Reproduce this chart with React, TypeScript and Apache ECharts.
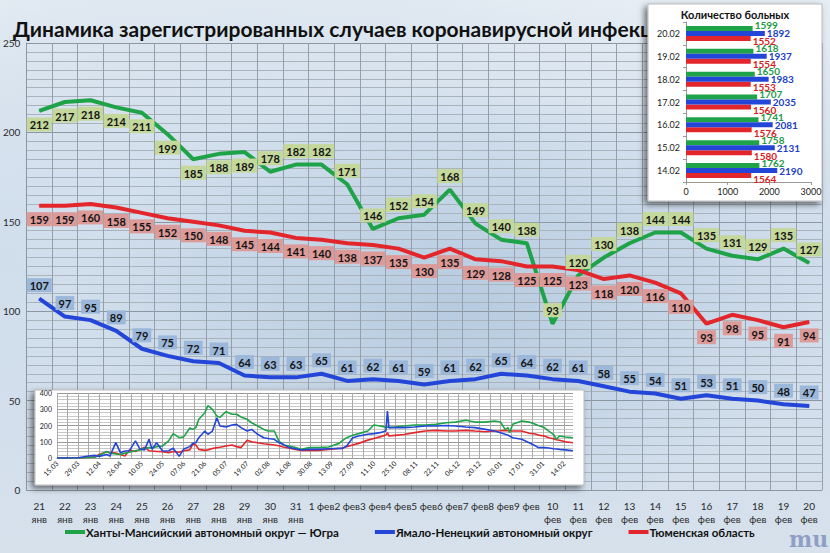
import React, { useEffect, useRef } from "react";
import * as echarts from "echarts";

// main chart: daily registered cases
const days = [
  "21\nянв", "22\nянв", "23\nянв", "24\nянв", "25\nянв", "26\nянв", "27\nянв", "28\nянв",
  "29\nянв", "30\nянв", "31\nянв", "1 фев", "2 фев", "3 фев", "4 фев", "5 фев", "6 фев",
  "7 фев", "8 фев", "9 фев", "10\nфев", "11\nфев", "12\nфев", "13\nфев", "14\nфев",
  "15\nфев", "16\nфев", "17\nфев", "18\nфев", "19\nфев", "20\nфев",
];
const khmao = [212, 217, 218, 214, 211, 199, 185, 188, 189, 178, 182, 182, 171, 146, 152, 154, 168, 149, 140, 138, 93, 120, 130, 138, 144, 144, 135, 131, 129, 135, 127];
const yanao = [107, 97, 95, 89, 79, 75, 72, 71, 64, 63, 63, 65, 61, 62, 61, 59, 61, 62, 65, 64, 62, 61, 58, 55, 54, 51, 53, 51, 50, 48, 47];
const tyumen = [159, 159, 160, 158, 155, 152, 150, 148, 145, 144, 141, 140, 138, 137, 135, 130, 135, 129, 128, 125, 125, 123, 118, 120, 116, 110, 93, 98, 95, 91, 94];

// inset: number of patients
const barDates = ["14.02", "15.02", "16.02", "17.02", "18.02", "19.02", "20.02"];
const barKhmao = [1762, 1758, 1741, 1707, 1650, 1618, 1599];
const barYanao = [2190, 2131, 2081, 2035, 1983, 1937, 1892];
const barTyumen = [1564, 1580, 1576, 1560, 1553, 1554, 1552];

// inset: whole epidemic
const insetDates = [
  "15.03", "22.03", "29.03", "05.04", "09.04", "12.04", "17.04", "19.04", "23.04", "26.04",
  "29.04", "02.05", "06.05", "09.05", "12.05", "15.05", "17.05", "20.05", "24.05", "28.05",
  "31.05", "04.06", "07.06", "11.06", "13.06", "15.06", "17.06", "21.06", "23.06", "26.06",
  "29.06", "01.07", "05.07", "09.07", "12.07", "15.07", "19.07", "22.07", "26.07", "30.07",
  "02.08", "06.08", "09.08", "12.08", "16.08", "20.08", "24.08", "29.08", "04.09", "11.09",
  "18.09", "20.09", "23.09", "27.09", "01.10", "07.10", "11.10", "15.10", "19.10", "20.10",
  "21.10", "25.10", "31.10", "07.11", "14.11", "21.11", "28.11", "04.12", "11.12", "17.12",
  "24.12", "30.12", "03.01", "06.01", "08.01", "09.01", "11.01", "17.01", "22.01", "26.01",
  "28.01", "01.02", "04.02", "07.02", "09.02", "11.02", "15.02", "20.02",
];
const insetKhmao = [
  0, 0, 1, 3, 5, 15, 40, 30, 25, 22,
  30, 35, 45, 50, 60, 64, 62, 70, 74, 105,
  150, 125, 130, 185, 176, 187, 238, 279, 322, 299,
  258, 250, 285, 269, 269, 252, 238, 217, 197, 176,
  166, 166, 105, 80, 74, 64, 53, 64, 64, 68,
  90, 105, 125, 140, 150, 166, 203, 197, 190, 190,
  187, 191, 197, 203, 203, 207, 217, 221, 232, 221,
  221, 228, 221, 176, 187, 156, 207, 228, 221, 207,
  200, 187, 166, 146, 115, 135, 129, 125,
];
const insetYanao = [
  0, 0, 2, 12, 16, 10, 22, 12, 95, 33,
  43, 45, 105, 55, 50, 115, 53, 94, 43, 45,
  60, 10, 55, 70, 90, 94, 125, 166, 146, 166,
  248, 197, 191, 203, 207, 187, 166, 176, 146, 125,
  120, 115, 94, 84, 64, 57, 49, 53, 53, 57,
  60, 59, 74, 125, 135, 146, 150, 156, 166, 289,
  187, 187, 187, 191, 197, 197, 200, 197, 191, 187,
  176, 166, 155, 146, 140, 135, 125, 115, 94, 75,
  64, 64, 62, 57, 55, 53, 50, 45,
];
const insetTyumen = [
  0, 0, 0, 4, 8, 22, 39, 33, 30, 22,
  12, 49, 40, 53, 66, 45, 43, 40, 39, 33,
  40, 35, 45, 50, 85, 80, 53, 47, 50, 58,
  64, 66, 74, 80, 70, 64, 109, 100, 94, 88,
  85, 80, 75, 68, 60, 53, 47, 47, 47, 53,
  58, 59, 70, 80, 90, 110, 120, 130, 141, 156,
  135, 139, 145, 156, 166, 170, 166, 166, 170, 166,
  162, 166, 168, 170, 168, 168, 166, 166, 152, 148,
  141, 135, 125, 118, 112, 109, 100, 94,
];

const GREEN = "#1fa348";
const BLUE = "#2446d8";
const RED = "#e3262b";
const FONT = "Lato";

const insetAxisDates: string[] = [];
{
  const pad = (n: number) => (n < 10 ? "0" + n : "" + n);
  const end = insetDates[insetDates.length - 1];
  for (let i = 0; i < 400; i++) {
    const d = new Date(2020, 2, 15 + i);
    const s = pad(d.getDate()) + "." + pad(d.getMonth() + 1);
    insetAxisDates.push(s);
    if (s === end && i > 300) break;
  }
}

const boxLabel = (bg: string, position: string, distance: number) => ({
  show: true,
  position,
  distance,
  backgroundColor: bg,
  color: "#141414",
  fontFamily: FONT,
  fontWeight: "bold",
  fontSize: 11,
  padding: [2, 3, 1, 3],
});

const barLabel = (color: string, offsetY: number) => ({
  show: true,
  position: "right",
  distance: 2,
  offset: [0, offsetY],
  color,
  fontSize: 10,
  fontWeight: "bold",
  fontFamily: FONT,
});

const App: React.FC = () => {
  const chartRef = useRef<HTMLDivElement>(null);

  useEffect(() => {
    if (!chartRef.current) return;
    const chart = echarts.init(chartRef.current, null, { renderer: "svg" });

    const options = {
      animation: false,
      backgroundColor: "transparent",
      textStyle: { fontFamily: FONT },
      title: {
        text: "Динамика зарегистрированных случаев коронавирусной инфекции",
        left: 8,
        top: 13,
        textStyle: { fontFamily: FONT, fontSize: 21, fontWeight: "bold", color: "#111" },
      },
      legend: {
        left: 60,
        top: 521,
        itemWidth: 20,
        itemHeight: 4,
        itemGap: 36,
        icon: "rect",
        textStyle: { fontFamily: FONT, fontSize: 11.5, fontWeight: "bold", color: "#111", padding: [0, 0, 0, -4] },
        data: [
          "Ханты-Мансийский автономный округ — Югра",
          "Ямало-Ненецкий автономный округ",
          "Тюменская область",
        ],
      },
      graphic: [
        {
          type: "rect",
          z: 10,
          shape: { x: 648, y: 4, width: 174, height: 197 },
          style: { fill: "#fff", stroke: "#bbb", shadowBlur: 6, shadowColor: "rgba(0,0,0,0.55)", shadowOffsetX: -3, shadowOffsetY: 3 },
        },
        {
          type: "text",
          z: 11,
          x: 735,
          y: 9,
          style: { text: "Количество больных", fill: "#111", font: "bold 11px Lato", textAlign: "center" },
        },
        {
          type: "rect",
          z: 10,
          shape: { x: 35, y: 390, width: 549, height: 95 },
          style: { fill: "#fff", stroke: "#bbb", shadowBlur: 6, shadowColor: "rgba(0,0,0,0.55)", shadowOffsetX: -3, shadowOffsetY: 3 },
        },
        {
          type: "text",
          z: 1,
          x: 789,
          y: 528,
          style: { text: "mu", fill: "rgba(110,130,180,0.7)", font: "bold 22px 'DejaVu Serif'" },
        },
      ],
      grid: [
        { left: 26, right: 8, top: 43, bottom: 63 },
        { left: 686, width: 125, top: 22, height: 160, z: 20 },
        { left: 57, width: 516, top: 393, height: 65, z: 20 },
      ],
      xAxis: [
        {
          type: "category",
          data: days,
          gridIndex: 0,
          axisLine: { lineStyle: { color: "#8d97a2" } },
          axisTick: { show: false },
          axisLabel: { interval: 0, fontSize: 10, lineHeight: 13, color: "#2a2a2a", margin: 9, fontFamily: FONT },
          splitLine: { show: true, interval: 0, lineStyle: { color: "#959fa9", width: 1 } },
        },
        {
          type: "value",
          gridIndex: 1,
          min: 0,
          max: 3000,
          interval: 1000,
          z: 20,
          axisLine: { show: true, lineStyle: { color: "#999" } },
          axisTick: { show: true, length: 3, lineStyle: { color: "#999" } },
          axisLabel: { fontSize: 9, color: "#222", margin: 5, fontFamily: FONT, formatter: (v: number) => String(v) },
          splitLine: { show: false },
        },
        {
          type: "category",
          gridIndex: 2,
          data: insetAxisDates,
          boundaryGap: false,
          z: 20,
          axisLine: { lineStyle: { color: "#999" } },
          axisTick: { show: false },
          axisLabel: { interval: 13, rotate: 45, fontSize: 7, color: "#222", margin: 4, fontFamily: FONT },
          splitLine: { show: true, interval: 6, lineStyle: { color: "#aaa", width: 1 } },
        },
      ],
      yAxis: [
        {
          type: "value",
          gridIndex: 0,
          min: 0,
          max: 250,
          interval: 50,
          axisLine: { show: true, lineStyle: { color: "#8d97a2" } },
          axisTick: { show: false },
          axisLabel: { fontSize: 10, color: "#2a2a2a", margin: 6, fontFamily: FONT },
          splitLine: { lineStyle: { color: "#8d97a2" } },
          minorTick: { show: false, splitNumber: 10 },
          minorSplitLine: { show: true, lineStyle: { color: "#a9b3bc" } },
        },
        {
          type: "category",
          gridIndex: 1,
          data: barDates,
          z: 20,
          axisLine: { show: true, lineStyle: { color: "#999" } },
          axisTick: { show: true, length: 3, lineStyle: { color: "#999" } },
          axisLabel: { fontSize: 9, color: "#222", margin: 6, fontFamily: FONT },
        },
        {
          type: "value",
          gridIndex: 2,
          min: 0,
          max: 400,
          interval: 100,
          z: 20,
          axisLine: { show: false },
          axisTick: { show: false },
          axisLabel: { fontSize: 7, color: "#222", margin: 5, fontFamily: FONT },
          splitLine: { lineStyle: { color: "#999" } },
          minorTick: { show: false, splitNumber: 5 },
          minorSplitLine: { show: true, lineStyle: { color: "#c8c8c8" } },
        },
      ],
      series: [
        {
          name: "Ханты-Мансийский автономный округ — Югра",
          type: "line",
          xAxisIndex: 0,
          yAxisIndex: 0,
          data: khmao.map((v, i) => ({
            value: v,
            label: i < 9 ? { position: "bottom", distance: 6 } : { position: "top", distance: 6 },
          })),
          symbol: "circle",
          symbolSize: 1,
          lineStyle: { color: GREEN, width: 4 },
          itemStyle: { color: GREEN },
          label: boxLabel("#c4d89c", "top", 6),
          z: 3,
        },
        {
          name: "Ямало-Ненецкий автономный округ",
          type: "line",
          xAxisIndex: 0,
          yAxisIndex: 0,
          data: yanao,
          symbol: "circle",
          symbolSize: 1,
          lineStyle: { color: BLUE, width: 4 },
          itemStyle: { color: BLUE },
          label: boxLabel("#9bb7da", "top", 6),
          z: 3,
        },
        {
          name: "Тюменская область",
          type: "line",
          xAxisIndex: 0,
          yAxisIndex: 0,
          data: tyumen,
          symbol: "circle",
          symbolSize: 1,
          lineStyle: { color: RED, width: 4 },
          itemStyle: { color: RED },
          label: boxLabel("#dc9a98", "bottom", 6),
          z: 3,
        },
        {
          type: "bar",
          xAxisIndex: 1,
          yAxisIndex: 1,
          data: barKhmao,
          barWidth: 5,
          barGap: "0%",
          itemStyle: { color: GREEN },
          label: barLabel("#1f9a45", -3),
          z: 21,
        },
        {
          type: "bar",
          xAxisIndex: 1,
          yAxisIndex: 1,
          data: barYanao,
          barWidth: 5,
          barGap: "0%",
          itemStyle: { color: BLUE },
          label: barLabel("#2040c8", 0),
          z: 22,
        },
        {
          type: "bar",
          xAxisIndex: 1,
          yAxisIndex: 1,
          data: barTyumen,
          barWidth: 5,
          barGap: "0%",
          itemStyle: { color: RED },
          label: barLabel("#d92020", 3),
          z: 21,
        },
        {
          type: "line",
          xAxisIndex: 2,
          yAxisIndex: 2,
          data: insetDates.map((d, i) => [d, insetTyumen[i]]),
          showSymbol: false,
          lineStyle: { color: RED, width: 1.6 },
          itemStyle: { color: RED },
          z: 21,
        },
        {
          type: "line",
          xAxisIndex: 2,
          yAxisIndex: 2,
          data: insetDates.map((d, i) => [d, insetKhmao[i]]),
          showSymbol: false,
          lineStyle: { color: GREEN, width: 1.6 },
          itemStyle: { color: GREEN },
          z: 21,
        },
        {
          type: "line",
          xAxisIndex: 2,
          yAxisIndex: 2,
          data: insetDates.map((d, i) => [d, insetYanao[i]]),
          showSymbol: false,
          lineStyle: { color: BLUE, width: 1.6 },
          itemStyle: { color: BLUE },
          z: 21,
        },
      ],
    };

    chart.setOption(options);

    return () => {
      chart.dispose();
    };
  }, []);

  return (
    <div
      style={{
        position: "fixed",
        left: 0,
        top: 0,
        width: 830,
        height: 553,
        background:
          "radial-gradient(ellipse 45% 40% at 55% 55%, #b7cbe0 0%, rgba(183,203,224,0) 100%), radial-gradient(ellipse 60% 55% at 30% 35%, #d2dfec 0%, rgba(210,223,236,0) 100%), linear-gradient(180deg, #e6edf4 0%, #cfdceb 45%, #d6e1ec 100%)",
      }}
    >
      <div ref={chartRef} style={{ width: 830, height: 553 }} />
    </div>
  );
};

export default App;
